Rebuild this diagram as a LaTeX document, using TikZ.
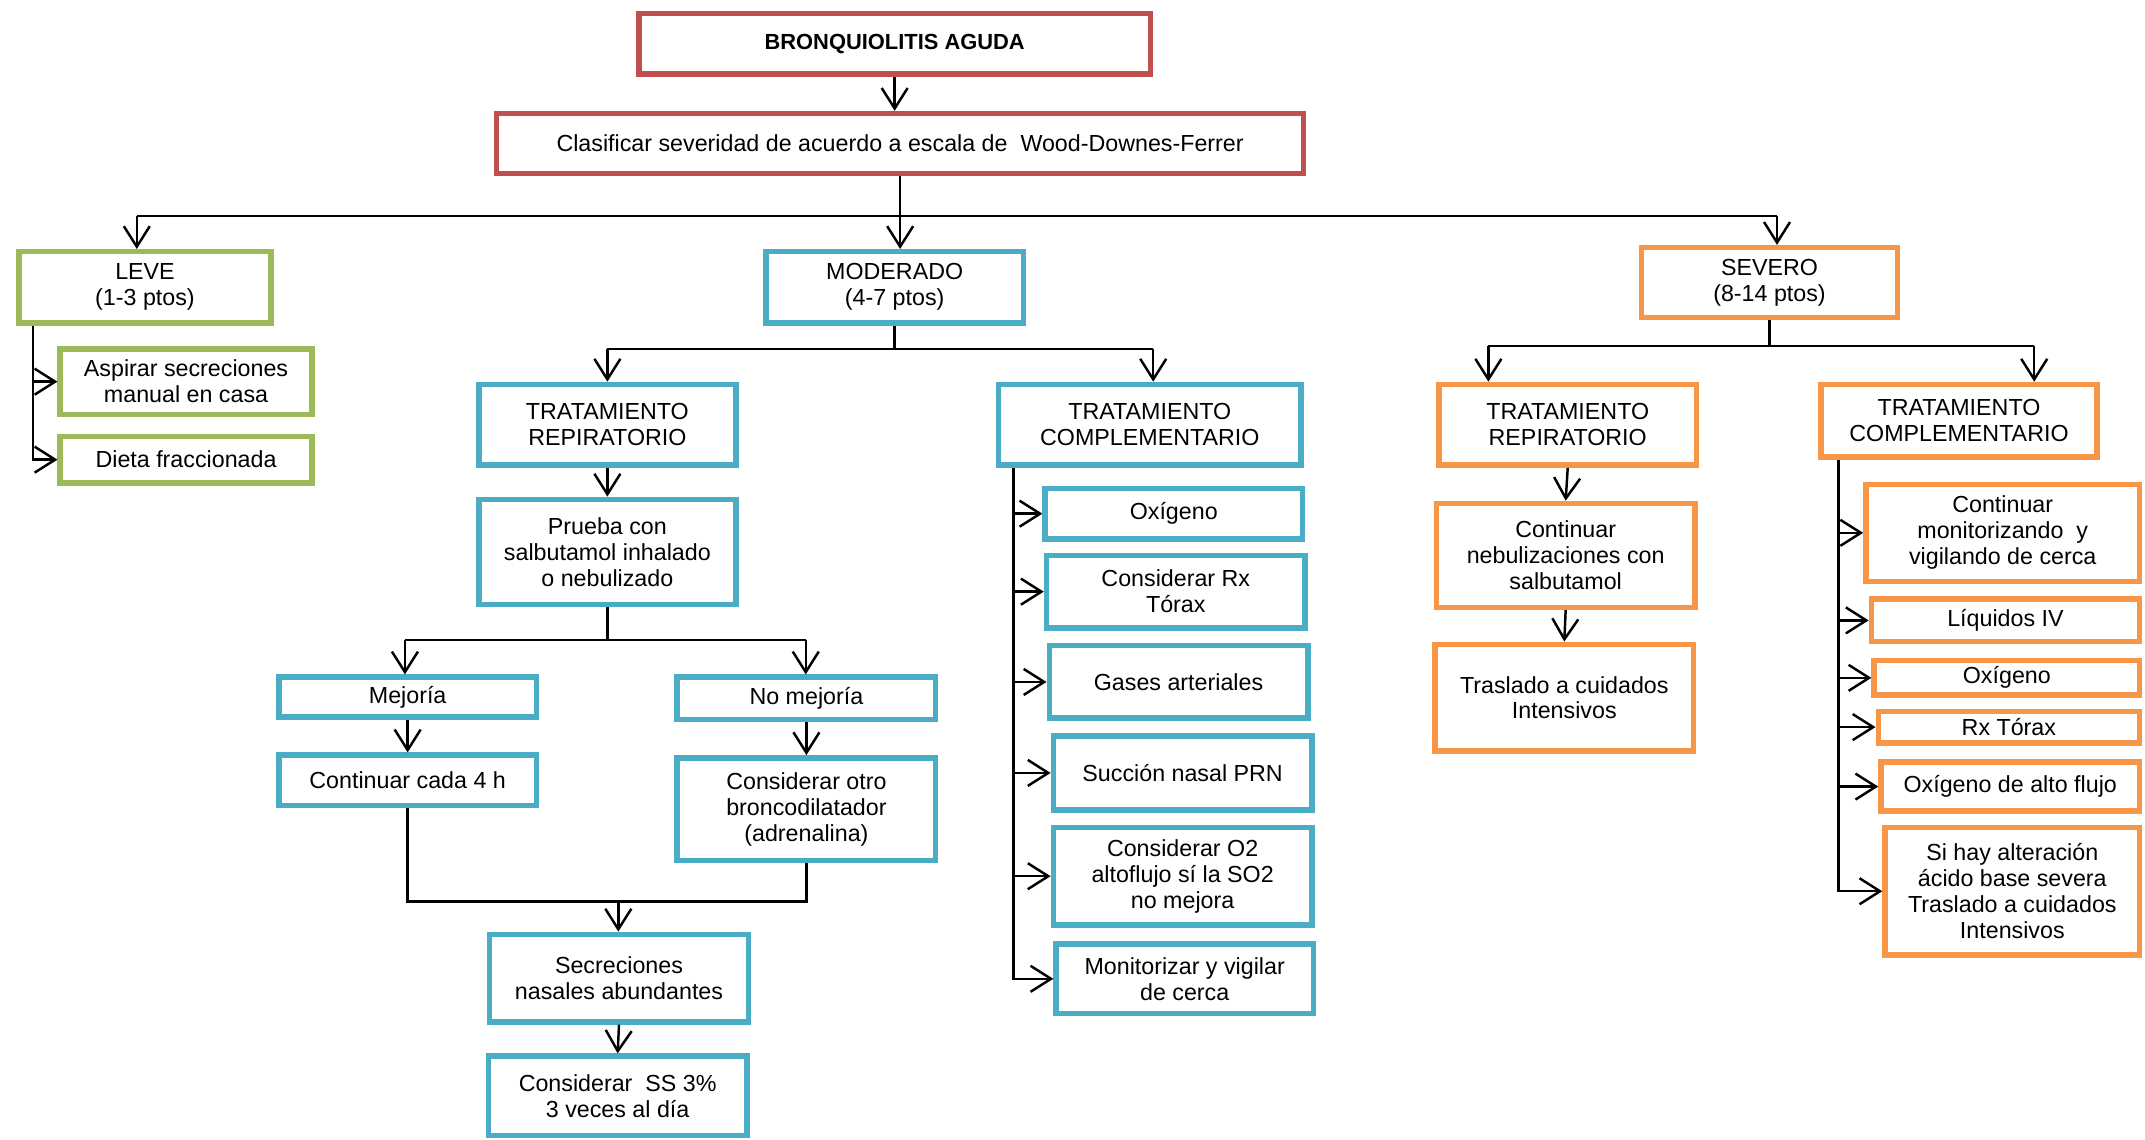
\documentclass[tikz,border=0pt]{standalone}
\usepackage{fontspec}
\setmainfont{Liberation Sans}
\usetikzlibrary{arrows.meta}
\definecolor{cred}{HTML}{C0504D}
\definecolor{cgreen}{HTML}{9BBB59}
\definecolor{cblue}{HTML}{4BACC6}
\definecolor{corange}{HTML}{F79646}
\begin{document}
\begin{tikzpicture}[x=1pt,y=-1pt,
  box/.style={draw, line width=4pt, inner sep=0pt, align=center, fill=white, text=black,
    font=\fontsize{17}{19}\selectfont},
  redbox/.style={box, draw=cred},
  greenbox/.style={box, draw=cgreen},
  bluebox/.style={box, draw=cblue},
  orangebox/.style={box, draw=corange},
  ln/.style={line width=1.8pt, draw=black},
  arr/.style={ln, -{Straight Barb[length=15pt,width=19pt,line width=1.8pt]}},
]
\useasboundingbox (0,0) rectangle (1568,833);

% top
\node[redbox, font=\bfseries\fontsize{16}{19}\selectfont, minimum width=374, minimum height=44] (t) at (654,32) {BRONQUIOLITIS AGUDA};
\node[redbox, minimum width=590, minimum height=44] (c) at (658,105) {Clasificar severidad de acuerdo a escala de \ Wood-Downes-Ferrer};

% leve
\node[greenbox, minimum width=184, minimum height=52] (leve) at (106,210) {LEVE\\(1-3 ptos)};
\node[greenbox, minimum width=184, minimum height=48] (asp) at (136,279) {Aspirar secreciones\\manual en casa};
\node[greenbox, minimum width=184, minimum height=34] (dieta) at (136,336) {Dieta fraccionada};

% moderado
\node[bluebox, minimum width=188, minimum height=52] (mod) at (654,210) {MODERADO\\(4-7 ptos)};
\node[bluebox, minimum width=188, minimum height=59] (trm) at (444,310.5) {TRATAMIENTO\\REPIRATORIO};
\node[bluebox, minimum width=188, minimum height=77] (prueba) at (444,403.5) {Prueba con\\salbutamol inhalado\\o nebulizado};
\node[bluebox, minimum width=188, minimum height=29] (mej) at (298,509.5) {Mejoría};
\node[bluebox, minimum width=188, minimum height=37] (cont4) at (298,570.5) {Continuar cada 4 h};
\node[bluebox, minimum width=189, minimum height=31] (nomej) at (589.5,510.5) {No mejoría};
\node[bluebox, minimum width=189, minimum height=75] (otro) at (589.5,591.5) {Considerar otro\\broncodilatador\\(adrenalina)};
\node[bluebox, minimum width=189, minimum height=64] (secr) at (452.5,715) {Secreciones\\nasales abundantes};
\node[bluebox, minimum width=189, minimum height=58] (ss) at (451.5,801) {Considerar \ SS 3\%\\3 veces al día};
\node[bluebox, minimum width=221, minimum height=59] (tcm) at (840.5,310.5) {TRATAMIENTO\\COMPLEMENTARIO};
\node[bluebox, minimum width=188, minimum height=37] (ox1) at (858,375.5) {Oxígeno};
\node[bluebox, minimum width=189, minimum height=53] (rx1) at (859.5,432.5) {Considerar Rx\\Tórax};
\node[bluebox, minimum width=189, minimum height=53] (gas) at (861.5,498.5) {Gases arteriales};
\node[bluebox, minimum width=189, minimum height=54] (suc) at (864.5,565) {Succión nasal PRN};
\node[bluebox, minimum width=189, minimum height=71] (o2) at (864.5,640.5) {Considerar O2\\altoflujo sí la SO2\\no mejora};
\node[bluebox, minimum width=188, minimum height=51] (mon) at (866,715.5) {Monitorizar y vigilar\\de cerca};

% severo
\node[orangebox, minimum width=187, minimum height=51] (sev) at (1293.5,206.5) {SEVERO\\(8-14 ptos)};
\node[orangebox, minimum width=188, minimum height=59] (trs) at (1146,310.5) {TRATAMIENTO\\REPIRATORIO};
\node[orangebox, minimum width=189, minimum height=76] (neb) at (1144.5,406) {Continuar\\nebulizaciones con\\salbutamol};
\node[orangebox, minimum width=189, minimum height=78] (tras) at (1143.5,510) {Traslado a cuidados\\Intensivos};
\node[orangebox, minimum width=202, minimum height=53] (tcs) at (1432,307.5) {TRATAMIENTO\\COMPLEMENTARIO};
\node[orangebox, minimum width=200, minimum height=71] (cmv) at (1464,389.5) {Continuar\\monitorizando \ y\\vigilando de cerca};
\node[orangebox, minimum width=196, minimum height=31] (liq) at (1466,453.5) {Líquidos IV};
\node[orangebox, minimum width=194, minimum height=25] (ox2) at (1467,495.5) {Oxígeno};
\node[orangebox, minimum width=191, minimum height=23] (rx2) at (1468.5,531.5) {Rx Tórax};
\node[orangebox, minimum width=189, minimum height=36] (oaf) at (1469.5,575) {Oxígeno de alto flujo};
\node[orangebox, minimum width=186, minimum height=93] (sih) at (1471,651.5) {Si hay alteración\\ácido base severa\\Traslado a cuidados\\Intensivos};

% connectors top
\draw[arr] (t.south) -- (t.south|-c.north);
\coordinate (h1l) at (100,158);
\coordinate (h1r) at (1299,158);
\draw[ln] (c.south) -- (c.south|-h1l);
\draw[ln] (h1l) -- (h1r);
\draw[arr] (h1l) -- (h1l|-leve.north);
\draw[arr] (c.south|-h1l) -- (c.south|-mod.north);
\draw[arr] (h1r) -- (h1r|-sev.north);

% leve
\coordinate (lv) at (24,0);
\draw[arr] (leve.south-|lv) |- (dieta.west);
\draw[arr] (lv|-asp.west) -- (asp.west);

% moderado
\coordinate (h2l) at (444,255);
\coordinate (h2r) at (843,255);
\draw[ln] (mod.south) -- (mod.south|-h2l);
\draw[ln] (h2l) -- (h2r);
\draw[arr] (h2l) -- (h2l|-trm.north);
\draw[arr] (h2r) -- (h2r|-tcm.north);
\draw[arr] (trm.south) -- (prueba.north);
\coordinate (h3l) at (296,468);
\coordinate (h3r) at (589,468);
\draw[ln] (prueba.south) -- (prueba.south|-h3l);
\draw[ln] (h3l) -- (h3r);
\draw[arr] (h3l) -- (h3l|-mej.north);
\draw[arr] (h3r) -- (h3r|-nomej.north);
\draw[arr] (mej.south) -- (cont4.north);
\draw[arr] (nomej.south) -- (otro.north);
\coordinate (h4) at (452,659);
\draw[ln] (cont4.south) -- (cont4.south|-h4) -- (otro.south|-h4) -- (otro.south);
\draw[arr] (h4) -- (h4|-secr.north);
\draw[arr] (secr.south) -- (ss.north);
\coordinate (vm) at (741,0);
\draw[arr] (tcm.south-|vm) |- (mon.west);
\foreach \n in {ox1,rx1,gas,suc,o2} \draw[arr] (vm|-\n.west) -- (\n.west);

% severo
\coordinate (h5l) at (1088,253);
\coordinate (h5r) at (1487,253);
\draw[ln] (sev.south) -- (sev.south|-h5l);
\draw[ln] (h5l) -- (h5r);
\draw[arr] (h5l) -- (h5l|-trs.north);
\draw[arr] (h5r) -- (h5r|-tcs.north);
\draw[arr] (trs.south) -- (neb.north);
\draw[arr] (neb.south) -- (tras.north);
\coordinate (vs) at (1344,0);
\draw[arr] (tcs.south-|vs) |- (sih.west);
\foreach \n in {cmv,liq,ox2,rx2,oaf} \draw[arr] (vs|-\n.west) -- (\n.west);
\end{tikzpicture}
\end{document}
